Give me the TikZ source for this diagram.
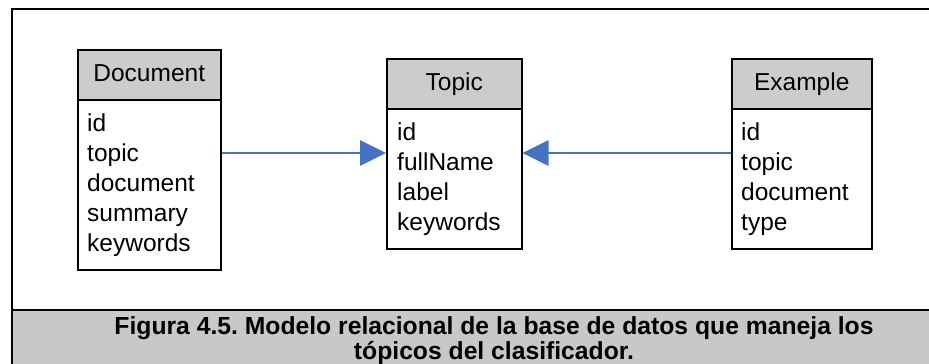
\documentclass[tikz,border=0pt]{standalone}
\usepackage{fontspec}
\setmainfont{Liberation Sans}
\usetikzlibrary{arrows.meta}
\definecolor{hdrgray}{HTML}{CCCCCC}
\definecolor{capgray}{HTML}{C8C8C8}
\definecolor{connblue}{HTML}{4472C4}
\frenchspacing
\begin{document}
\begin{tikzpicture}[x=1pt,y=-1pt,
  hdrbox/.style={draw, line width=1.5pt, fill=hdrgray, inner sep=0pt, anchor=north west,
    minimum height=50pt, font=\fontsize{24.5}{30}\selectfont, text height=17.5pt, text depth=4pt},
  bodybox/.style={draw, line width=1.5pt, fill=white, inner sep=0pt, anchor=north west},
  field/.style={inner sep=0pt, anchor=base west, font=\fontsize{24.5}{30}\selectfont},
  conn/.style={draw=connblue, line width=2.8pt, -{Triangle[length=26pt,width=25pt]}},
  frame/.style={line width=2.6pt}]
\useasboundingbox (0,0) rectangle (929,364);
% caption band and frame
\fill[capgray] (12,310) rectangle (931,366);
\draw[frame] (12,366) -- (12,9) -- (931,9);
\draw[frame] (12,310) -- (931,310);
\node[font=\bfseries\fontsize{24.7}{25}\selectfont\frenchspacing, align=center, inner sep=0pt, anchor=base] (caption) at (494,359)
  {Figura 4.5. Modelo relacional de la base de datos que maneja los\\tópicos del clasificador.};
% Document
\node[bodybox, minimum width=143pt, minimum height=170pt] (docb) at (77,99) {};
\node[hdrbox, minimum width=143pt] (doch) at (77,49) {Document};
\foreach \t [count=\i] in {id,topic,document,summary,keywords}
  \node[field] (doc-\i) at ({87},{131+30.2*(\i-1)}) {\t};
% Topic
\node[bodybox, minimum width=135pt, minimum height=140pt] (topb) at (386,108) {};
\node[hdrbox, minimum width=135pt] (toph) at (386,58) {Topic};
\foreach \t [count=\i] in {id,fullName,label,keywords}
  \node[field] (top-\i) at ({397},{140+30*(\i-1)}) {\t};
% Example
\node[bodybox, minimum width=140pt, minimum height=140pt] (exb) at (731,108) {};
\node[hdrbox, minimum width=140pt] (exh) at (731,58) {Example};
\foreach \t [count=\i] in {id,topic,document,type}
  \node[field] (ex-\i) at ({741},{140+30*(\i-1)}) {\t};
% connectors
\draw[conn] (docb.east |- {(0,153)}) -- (topb.west |- {(0,153)});
\draw[conn] (exb.west |- {(0,153)}) -- (topb.east |- {(0,153)});
\end{tikzpicture}
\end{document}
